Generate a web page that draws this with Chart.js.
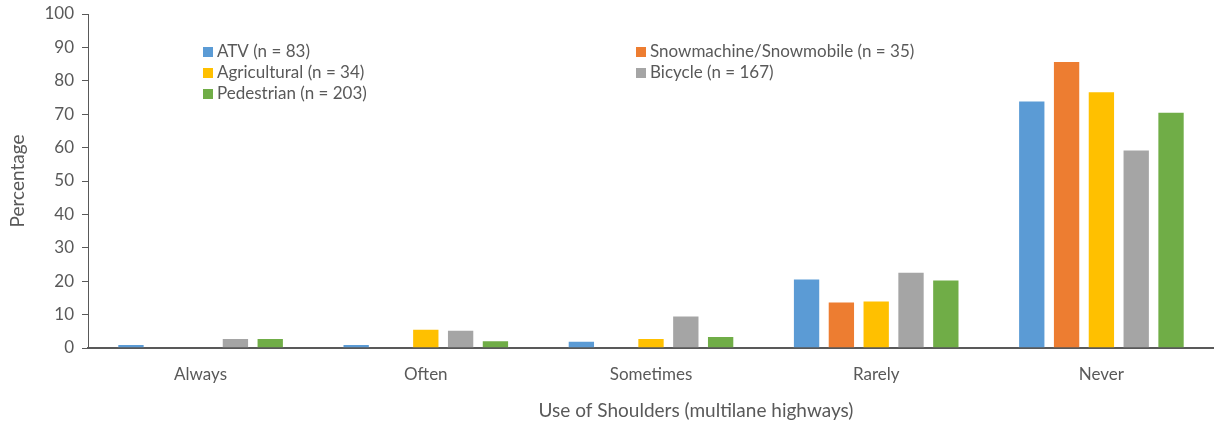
<!DOCTYPE html>
<html>
<head>
<meta charset="utf-8">
<script src="https://cdn.jsdelivr.net/npm/chart.js@4.4.1/dist/chart.umd.min.js"></script>
<style>
  html, body { margin: 0; padding: 0; background: #fff; }
  #wrap { width: 1214px; height: 427px; }
</style>
</head>
<body>
<div id="wrap"><canvas id="chart" width="1214" height="427"></canvas></div>
<script>
// Data
const categories = ['Always', 'Often', 'Sometimes', 'Rarely', 'Never'];
const atv = [1.2, 1.2, 2.2, 20.8, 74.1];
const snowmachine = [0, 0, 0, 13.9, 85.9];
const agricultural = [0, 5.8, 3.0, 14.2, 76.9];
const bicycle = [3.0, 5.5, 9.7, 22.8, 59.4];
const pedestrian = [3.0, 2.3, 3.6, 20.5, 70.7];
const yTicks = [0, 10, 20, 30, 40, 50, 60, 70, 80, 90, 100];

const seriesLabels = [
  'ATV (n = 83)',
  'Snowmachine/Snowmobile (n = 35)',
  'Agricultural (n = 34)',
  'Bicycle (n = 167)',
  'Pedestrian (n = 203)'
];
const seriesColors = ['#5B9BD5', '#ED7D31', '#FFC000', '#A5A5A5', '#70AD47'];
const seriesValues = [atv, snowmachine, agricultural, bicycle, pedestrian];
const xTitle = 'Use of Shoulders (multilane highways)';

const textColor = '#595959';
const fontFamily = "Lato, 'Open Sans', sans-serif";

// Two-column legend drawn inside the plot area
const gridLegend = {
  id: 'gridLegend',
  afterDraw(chart) {
    const ctx = chart.ctx;
    const cols = [203, 636];
    const rowTop = 52;
    const rowGap = 21;
    ctx.save();
    ctx.font = '17px ' + fontFamily;
    ctx.textBaseline = 'middle';
    chart.data.datasets.forEach((ds, i) => {
      const x = cols[i % 2];
      const y = rowTop + Math.floor(i / 2) * rowGap;
      ctx.fillStyle = ds.backgroundColor;
      ctx.fillRect(x, y - 5, 10, 10);
      ctx.fillStyle = textColor;
      ctx.fillText(ds.label, x + 14, y);
    });
    ctx.restore();
  }
};

// x axis title sits a bit right of the plot centre in the original
const xTitlePlugin = {
  id: 'xTitlePlugin',
  afterDraw(chart) {
    const ctx = chart.ctx;
    ctx.save();
    ctx.font = '19px ' + fontFamily;
    ctx.fillStyle = textColor;
    ctx.textAlign = 'center';
    ctx.textBaseline = 'middle';
    ctx.fillText(xTitle, 696, 411);
    ctx.restore();
  }
};

const ctx = document.getElementById('chart').getContext('2d');
new Chart(ctx, {
  type: 'bar',
  data: {
    labels: categories,
    datasets: seriesLabels.map((label, i) => ({
      label,
      data: seriesValues[i],
      backgroundColor: seriesColors[i],
      borderColor: 'rgba(255,255,255,0.25)',
      borderWidth: 1,
      categoryPercentage: 0.773,
      barPercentage: 0.785
    }))
  },
  options: {
    responsive: false,
    animation: false,
    layout: { padding: { top: 14, right: 0, left: 0, bottom: 0 } },
    plugins: {
      legend: { display: false },
      tooltip: { enabled: false }
    },
    scales: {
      x: {
        afterFit(scale) { scale.height = 79; },
        grid: { display: false },
        border: { display: true, color: '#595959', width: 2 },
        ticks: { color: textColor, font: { family: fontFamily, size: 17 }, padding: 8 }
      },
      y: {
        min: 0,
        max: 100,
        afterBuildTicks(scale) {
          scale.ticks = yTicks.map(v => ({ value: v }));
        },
        afterFit(scale) {
          scale.width = 88;
          scale.paddingTop = 0;
          scale.paddingBottom = 0;
        },
        grid: { drawOnChartArea: false, drawTicks: true, tickLength: 6, color: '#595959' },
        border: { display: true, color: '#595959', width: 1 },
        ticks: { color: textColor, font: { family: fontFamily, size: 17 }, padding: 8 },
        title: {
          display: true,
          text: 'Percentage',
          color: textColor,
          font: { family: fontFamily, size: 19 },
          padding: { top: 6, bottom: 4 }
        }
      }
    }
  },
  plugins: [gridLegend, xTitlePlugin]
});
</script>
</body>
</html>
